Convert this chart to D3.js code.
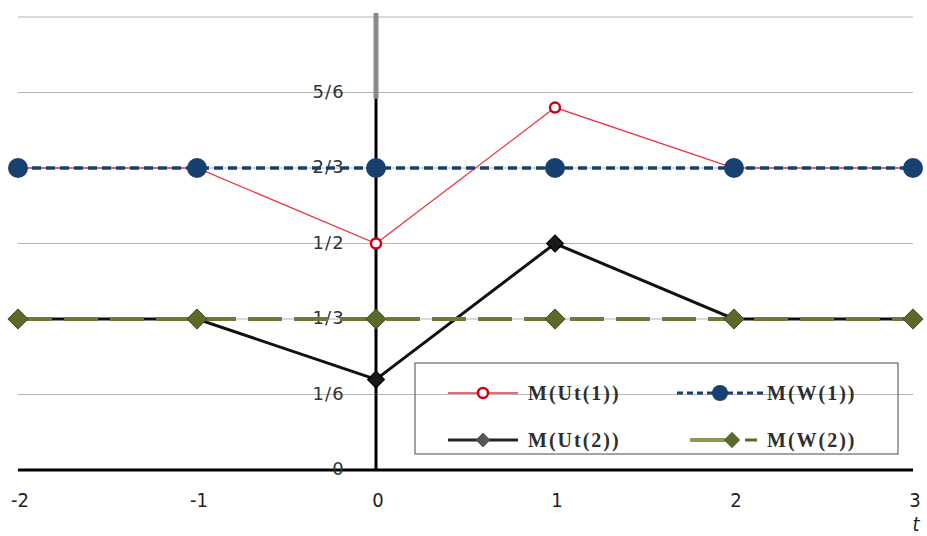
<!DOCTYPE html>
<html><head><meta charset="utf-8">
<script src="https://cdn.jsdelivr.net/npm/d3@7"></script>
<style>body{margin:0;background:#fff}svg{display:block}</style>
</head><body>
<svg id="c" width="927" height="536"></svg>
<script>
const tValues = [-2, -1, 0, 1, 2, 3];
const seriesU1 = [2/3, 2/3, 1/2, 0.8, 2/3, 2/3];
const seriesW1 = [2/3, 2/3, 2/3, 2/3, 2/3, 2/3];
const seriesU2 = [1/3, 1/3, 0.2, 1/2, 1/3, 1/3];
const seriesW2 = [1/3, 1/3, 1/3, 1/3, 1/3, 1/3];
const yTickValues = [0, 1/6, 1/3, 1/2, 2/3, 5/6, 1];
const yTickLabels = ["0", "1/6", "1/3", "1/2", "2/3", "5/6", ""];
const legendNames = ["M(Ut(1))", "M(W(1))", "M(Ut(2))", "M(W(2))"];

const svg = d3.select("#c");
const x = d3.scaleLinear().domain([-2, 3]).range([18, 913]);
const y = d3.scaleLinear().domain([0, 1]).range([470, 17]);

// grid
svg.append("g").selectAll("line").data(yTickValues.slice(1)).join("line")
  .attr("x1", 18).attr("x2", 913).attr("y1", d => y(d)).attr("y2", d => y(d))
  .attr("stroke", "#b4b4b4").attr("stroke-width", 1.2);

// y axis
svg.append("line").attr("x1", x(0)).attr("x2", x(0)).attr("y1", y(1) - 4).attr("y2", y(5/6) + 6)
  .attr("stroke", "#8a8a8a").attr("stroke-width", 5);
svg.append("line").attr("x1", x(0)).attr("x2", x(0)).attr("y1", y(5/6) + 6).attr("y2", y(0))
  .attr("stroke", "#000").attr("stroke-width", 3);
// x axis
svg.append("line").attr("x1", 18).attr("x2", 913).attr("y1", y(0)).attr("y2", y(0))
  .attr("stroke", "#000").attr("stroke-width", 3);

// y tick labels
svg.append("g").selectAll("text").data(yTickValues).join("text")
  .attr("x", 345).attr("y", d => y(d) - 1).attr("dy", "0.35em")
  .attr("text-anchor", "end").attr("font-family", "DejaVu Sans, sans-serif")
  .attr("font-size", 18).attr("letter-spacing", 1.2).attr("fill", "#333")
  .text((d, i) => yTickLabels[i]);

// x tick labels
svg.append("g").selectAll("text").data(tValues).join("text")
  .attr("x", d => x(d) + 2).attr("y", 507)
  .attr("text-anchor", "middle").attr("font-family", "DejaVu Sans Condensed, DejaVu Sans, sans-serif")
  .attr("font-size", 20).attr("fill", "#222")
  .text(d => d);
svg.append("text").attr("x", x(3) + 3).attr("y", 531).attr("text-anchor", "middle")
  .attr("font-family", "DejaVu Sans Condensed, DejaVu Sans, sans-serif").attr("font-style", "italic")
  .attr("font-size", 20).attr("fill", "#222").text("t");

const line = d3.line().x((d, i) => x(tValues[i])).y(d => y(d));
const diamond = d3.symbol().type(d3.symbolDiamond2);

// U(1) red
svg.append("path").attr("d", line(seriesU1)).attr("fill", "none").attr("stroke", "#ee3344").attr("stroke-width", 1.3);
svg.append("g").selectAll("circle").data(seriesU1).join("circle")
  .attr("cx", (d, i) => x(tValues[i])).attr("cy", d => y(d)).attr("r", 5)
  .attr("fill", "#fff").attr("stroke", "#d00010").attr("stroke-width", 2.5);

// U(2) black
svg.append("path").attr("d", line(seriesU2)).attr("fill", "none").attr("stroke", "#111").attr("stroke-width", 3);
svg.append("g").selectAll("path").data(seriesU2).join("path")
  .attr("transform", (d, i) => `translate(${x(tValues[i])},${y(d)})`)
  .attr("d", diamond.size(170)()).attr("fill", "#1a1a1a").attr("stroke", "#000").attr("stroke-width", 1.5);

// W(1) blue dashed
svg.append("path").attr("d", line(seriesW1)).attr("fill", "none").attr("stroke", "#17406f")
  .attr("stroke-width", 3.5).attr("stroke-dasharray", "9,5");
svg.append("g").selectAll("circle").data(seriesW1).join("circle")
  .attr("cx", (d, i) => x(tValues[i])).attr("cy", d => y(d)).attr("r", 10)
  .attr("fill", "#17406f");

// W(2) olive long dash
svg.append("path").attr("d", line(seriesW2)).attr("fill", "none").attr("stroke", "#6b7a38")
  .attr("stroke-width", 4).attr("stroke-dasharray", "34,12");
svg.append("g").selectAll("path").data(seriesW2).join("path")
  .attr("transform", (d, i) => `translate(${x(tValues[i])},${y(d)})`)
  .attr("d", diamond.size(260)()).attr("fill", "#5a6a2a").attr("stroke", "#3f4a1c").attr("stroke-width", 1);

// legend
const lg = svg.append("g");
lg.append("rect").attr("x", 415).attr("y", 363).attr("width", 483).attr("height", 91)
  .attr("fill", "none").attr("stroke", "#666").attr("stroke-width", 1.2);
const legendItems = [
  {name: legendNames[0], tx: 528, ly: 393},
  {name: legendNames[1], tx: 767, ly: 393},
  {name: legendNames[2], tx: 528, ly: 440},
  {name: legendNames[3], tx: 767, ly: 440}
];
lg.append("line").attr("x1", 448).attr("x2", 518).attr("y1", 393).attr("y2", 393).attr("stroke", "#ee3344").attr("stroke-width", 1.5);
lg.append("circle").attr("cx", 483).attr("cy", 393).attr("r", 5).attr("fill", "#fff").attr("stroke", "#d00010").attr("stroke-width", 2.5);
lg.append("line").attr("x1", 677).attr("x2", 763).attr("y1", 393).attr("y2", 393).attr("stroke", "#17406f").attr("stroke-width", 3).attr("stroke-dasharray", "6,4");
lg.append("circle").attr("cx", 720).attr("cy", 393).attr("r", 8).attr("fill", "#17406f");
lg.append("line").attr("x1", 448).attr("x2", 518).attr("y1", 440).attr("y2", 440).attr("stroke", "#222").attr("stroke-width", 3);
lg.append("path").attr("transform", "translate(483,440)").attr("d", diamond.size(140)()).attr("fill", "#555");
lg.append("line").attr("x1", 690).attr("x2", 735).attr("y1", 440).attr("y2", 440).attr("stroke", "#8a9a55").attr("stroke-width", 4);
lg.append("path").attr("transform", "translate(732,440)").attr("d", diamond.size(170)()).attr("fill", "#5a6a2a");
lg.append("line").attr("x1", 745).attr("x2", 757).attr("y1", 440).attr("y2", 440).attr("stroke", "#5a6a2a").attr("stroke-width", 3);
lg.selectAll("text.lt").data(legendItems).join("text").attr("class", "lt")
  .attr("x", d => d.tx).attr("y", d => d.ly).attr("dy", "0.35em")
  .attr("font-family", "Liberation Serif, Times New Roman, serif").attr("font-size", 20)
  .attr("letter-spacing", 2).attr("font-weight", "bold").attr("fill", "#2e2e2e")
  .text(d => d.name);
</script>
</body></html>
